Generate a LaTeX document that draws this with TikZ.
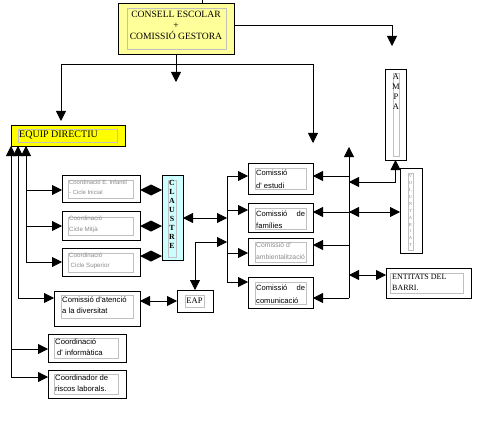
\documentclass[tikz,border=0pt]{standalone}
\usepackage{fontspec}
\setmainfont{Liberation Serif}
\newfontfamily\lsans{Liberation Sans}
\usetikzlibrary{arrows.meta,calc}
\definecolor{paleyellow}{HTML}{FFFF99}
\definecolor{brightyellow}{HTML}{FFFF00}
\definecolor{palecyan}{HTML}{CCFFFF}
\definecolor{frame}{HTML}{C0C0C0}
\definecolor{graytxt}{HTML}{8C8C8C}
\tikzset{
  box/.style={draw, line width=0.8pt, inner sep=0pt, outer sep=0pt},
  inbox/.style={draw=frame, line width=0.6pt, inner sep=0pt, outer sep=0pt},
  lbl/.style={inner sep=0pt, anchor=west, align=left},
  arr/.style={-{Triangle[length=10pt,width=10pt]}, line width=0.8pt},
  dbl/.style={{Triangle[length=10pt,width=10pt]}-{Triangle[length=10pt,width=10pt]}, line width=0.8pt},
  ln/.style={line width=0.8pt},
  capsf/.style={font=\fontsize{9.6}{11}\selectfont},
  smallsf/.style={font=\lsans\fontsize{7.6}{12.5}\selectfont},
  tinysf/.style={font=\lsans\fontsize{5.9}{9.5}\selectfont, text=graytxt}
}
\begin{document}
\begin{tikzpicture}[x=1pt,y=-1pt]
\useasboundingbox[fill=white] (0,0) rectangle (479,425);

% ---------- boxes ----------
\node[box, fill=paleyellow, minimum width=116pt, minimum height=51pt] (consell) at (176,28.5) {};
\node[inbox, minimum width=99pt, minimum height=41pt] (consellin) at (176.5,28.5) {};
\node[capsf, align=center, inner sep=0pt] (conselltxt) at (176,25) {CONSELL ESCOLAR\\+\\COMISSIÓ GESTORA};

\node[box, fill=brightyellow, minimum width=114pt, minimum height=21pt] (equip) at (68,135.5) {};
\node[inbox, minimum width=99pt, minimum height=13pt] (equipin) at (67.5,135.5) {};
\node[lbl, font=\fontsize{10}{11}\selectfont] (equiptxt) at (19,135.5) {EQUIP DIRECTIU};

\node[box, minimum width=21pt, minimum height=91pt] (ampa) at (395.5,114.5) {};
\node[inbox, minimum width=6pt, minimum height=83pt] (ampain) at (396,114.5) {};
\node[inner sep=0pt, align=center, font=\fontsize{8.5}{10}\selectfont, anchor=north] (ampatxt) at (396,74) {A\\M\\P\\A};

\node[box, minimum width=22pt, minimum height=85pt] (vol) at (411,210.5) {};
\node[inbox, minimum width=5pt, minimum height=77pt] (volin) at (410.5,211.5) {};
\node[inner sep=0pt, align=center, font=\fontsize{4.6}{6.9}\selectfont, text=graytxt, anchor=north] (voltxt) at (410.5,174.5) {V\\O\\L\\U\\N\\T\\A\\R\\I\\A\\T};

\node[box, fill=palecyan, minimum width=21pt, minimum height=85pt] (cla) at (172.5,217.5) {};
\node[inbox, minimum width=8pt, minimum height=77pt] (clain) at (172,218.5) {};
\node[inner sep=0pt, align=center, font=\bfseries\fontsize{7.8}{9}\selectfont, anchor=north] (clatxt) at (172,180.5) {C\\L\\A\\U\\S\\T\\R\\E};

\node[box, minimum width=78pt, minimum height=27pt] (co1) at (101,188.5) {};
\node[inbox, minimum width=65pt, minimum height=18pt] (co1in) at (100.5,189) {};
\node[lbl, tinysf] (co1txt) at (69,187.5) {Coordinació E. Infantil\\- Cicle Inicial};

\node[box, minimum width=78pt, minimum height=29pt] (co2) at (101,225.5) {};
\node[inbox, minimum width=65pt, minimum height=18pt] (co2in) at (100.5,226) {};
\node[lbl, tinysf, font=\lsans\fontsize{6.2}{11}\selectfont] (co2txt) at (69,224.5) {Coordinació\\Cicle Mitjà};

\node[box, minimum width=78pt, minimum height=28pt] (co3) at (101,262) {};
\node[inbox, minimum width=65pt, minimum height=19pt] (co3in) at (100.5,262.5) {};
\node[lbl, tinysf, font=\lsans\fontsize{6.2}{10}\selectfont] (co3txt) at (69,261) {Coordinació\\\hspace{1.5pt}Cicle Superior};

\node[box, minimum width=86pt, minimum height=35pt] (div) at (97,308.5) {};
\node[inbox, minimum width=72pt, minimum height=23pt] (divin) at (97,306.5) {};
\node[lbl, font=\lsans\fontsize{7.7}{11}\selectfont] (divtxt) at (62,305.5) {Comissió d'atenció\\a la diversitat};

\node[box, minimum width=78pt, minimum height=28pt] (inf) at (87,348) {};
\node[inbox, minimum width=64pt, minimum height=20pt] (infin) at (86,348) {};
\node[lbl, font=\lsans\fontsize{7.7}{11}\selectfont] (inftxt) at (55,347.5) {Coordinació\\\hspace{2pt}d' informàtica};

\node[box, minimum width=78pt, minimum height=28pt] (ris) at (87,384) {};
\node[inbox, minimum width=64pt, minimum height=20pt] (risin) at (86,384) {};
\node[lbl, font=\lsans\fontsize{7.7}{11}\selectfont] (ristxt) at (55,383.5) {Coordinador de\\riscos laborals.};

\node[box, minimum width=36pt, minimum height=22pt] (eap) at (195,301) {};
\node[inbox, minimum width=19pt, minimum height=12pt] (eapin) at (194.5,301) {};
\node[inner sep=0pt, font=\fontsize{8.5}{9}\selectfont] (eaptxt) at (194.5,301) {EAP};

\node[box, minimum width=65pt, minimum height=31pt] (c1) at (280.5,178.5) {};
\node[inbox, minimum width=51pt, minimum height=21pt] (c1in) at (280.5,178.5) {};
\node[lbl, smallsf] (c1txt) at (256,179) {Comissió\\d' estudi};

\node[box, minimum width=65pt, minimum height=29pt] (c2) at (280.5,217.5) {};
\node[inbox, minimum width=51pt, minimum height=21pt] (c2in) at (280.5,218.5) {};
\node[lbl, smallsf, text width=49pt] (c2txt) at (256,219.5) {Comissió\hfill de\\famílies};

\node[box, minimum width=65pt, minimum height=27pt] (c3) at (280.5,251.5) {};
\node[inbox, minimum width=51pt, minimum height=20pt] (c3in) at (280.5,252) {};
\node[lbl, font=\lsans\fontsize{6.8}{12}\selectfont, text=graytxt] (c3txt) at (256,251) {Comissió d'\\ambientalització};

\node[box, minimum width=65pt, minimum height=31pt] (c4) at (280.5,292.5) {};
\node[inbox, minimum width=51pt, minimum height=22pt] (c4in) at (280.5,293) {};
\node[lbl, smallsf, text width=49pt] (c4txt) at (256,294) {Comissió\hfill de\\comunicació};

\node[box, minimum width=85pt, minimum height=30pt] (ent) at (428.5,283) {};
\node[inbox, minimum width=73pt, minimum height=20pt] (entin) at (426.5,283) {};
\node[lbl, font=\fontsize{8}{10.5}\selectfont] (enttxt) at (392,282.5) {ENTITATS DEL\\BARRI.};

% ---------- coordinates ----------
\coordinate (topin) at (202,0);
\coordinate (ampaend) at (392,46);
\coordinate (split) at (176,64);
\coordinate (splitL) at (61,64);
\coordinate (splitR) at (313,64);
\coordinate (endL) at (61,121);
\coordinate (endM) at (176,82);
\coordinate (endR) at (313,143);
\coordinate (ya) at (11,377);
\coordinate (yb) at (18,298);
\coordinate (yc) at (26,262);
\coordinate (ya1) at (11,349);
\coordinate (yc1) at (26,190);
\coordinate (yc2) at (26,226);
\coordinate (lbtop) at (227,176);
\coordinate (lbbot) at (227,282);
\coordinate (lb2) at (227,210);
\coordinate (lb3) at (227,253);
\coordinate (lbc) at (227,218);
\coordinate (lbe) at (227,242);
\coordinate (rbtop) at (349,147);
\coordinate (rbbot) at (349,298);
\coordinate (rb1) at (349,176);
\coordinate (rb2) at (349,212);
\coordinate (rb3) at (349,245);
\coordinate (rba) at (349,182);
\coordinate (rbe) at (349,275);
\coordinate (d1) at (140,190);
\coordinate (d2) at (140,226);
\coordinate (d3) at (140,256);

% ---------- connectors ----------
\draw[ln] (topin) -- (topin |- consell.north);
\draw[arr] (consell.east |- 0,25) -| (ampaend);
\draw[ln] (consell.south) -- (split);
\draw[ln] (splitL) -- (splitR);
\draw[arr] (splitL) -- (endL);
\draw[arr] (split) -- (endM);
\draw[arr] (splitR) -- (endR);

% left verticals up to EQUIP DIRECTIU
\draw[arr] (ya) -- (ya |- equip.south);
\draw[arr] (yb) -- (yb |- equip.south);
\draw[arr] (yc) -- (yc |- equip.south);
\draw[arr] (yc1) -- (yc1 -| co1.west);
\draw[arr] (yc2) -- (yc2 -| co2.west);
\draw[arr] (yc) -- (yc -| co3.west);
\draw[arr] (yb) -- (yb -| div.west);
\draw[arr] (ya1) -- (ya1 -| inf.west);
\draw[arr] (ya) -- (ya -| ris.west);

% diamonds (double heads) to CLAUSTRE
\foreach \d in {d1,d2,d3}{
  \fill (\d) -- ($(\d)!0.5!(\d -| cla.west)+(0,-5.5)$) -- (\d -| cla.west)
        -- ($(\d)!0.5!(\d -| cla.west)+(0,5.5)$) -- cycle;
}

% left bus
\draw[ln] (lbtop) -- (lbbot);
\draw[dbl] (lbc -| cla.east) -- (lbc);
\draw[arr] (lbtop) -- (lbtop -| c1.west);
\draw[arr] (lb2) -- (lb2 -| c2.west);
\draw[arr] (lb3) -- (lb3 -| c3.west);
\draw[arr] (lbbot) -- (lbbot -| c4.west);
\draw[dbl] (eap.north) |- (lbe);
\draw[dbl] (eap.west) -- (eap.west -| div.east);

% right bus
\draw[arr] (rbbot) -- (rbtop);
\draw[arr] (rb1) -- (rb1 -| c1.east);
\draw[arr] (rb2) -- (rb2 -| c2.east);
\draw[arr] (rb3) -- (rb3 -| c3.east);
\draw[arr] (rbbot) -- (rbbot -| c4.east);
\draw[dbl] (rba) -| (ampa.south);
\draw[dbl] (rb2) -- (rb2 -| vol.west);
\draw[dbl] (rbe) -- (rbe -| ent.west);
\end{tikzpicture}
\end{document}
